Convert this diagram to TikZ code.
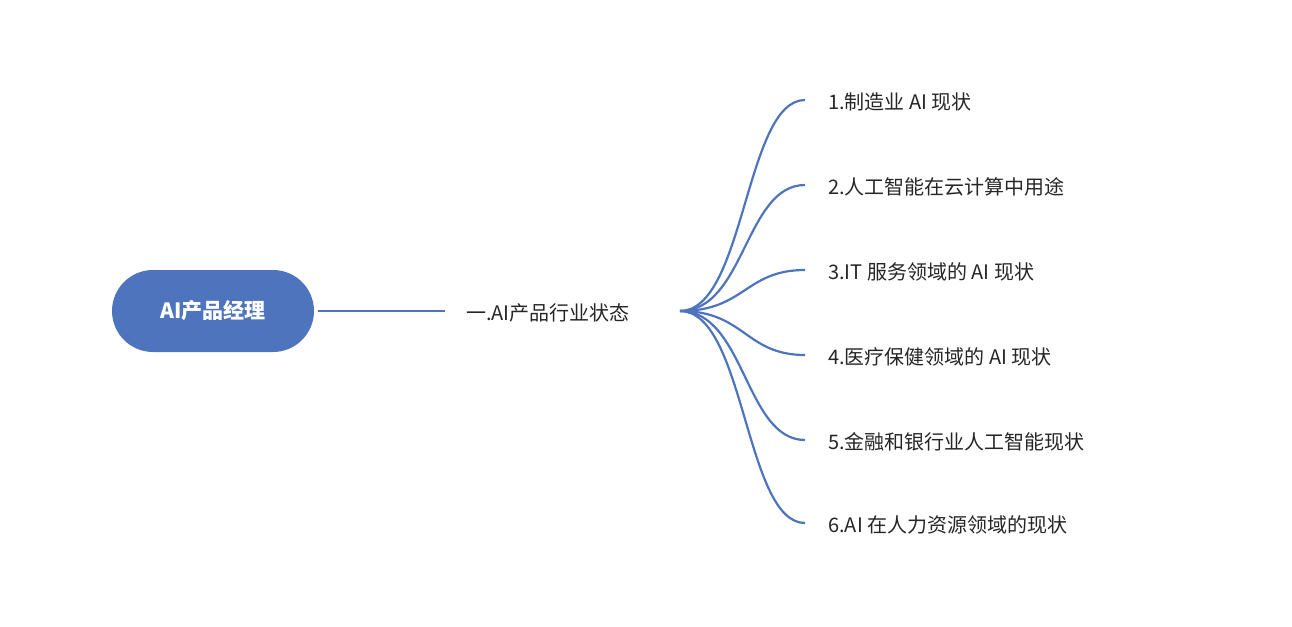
\documentclass[tikz,border=0pt]{standalone}
\usepackage{fontspec}
\setmainfont{Noto Sans CJK SC}
\definecolor{blu}{HTML}{4E74BE}
\definecolor{txt}{HTML}{262626}
\begin{document}
\begin{tikzpicture}[x=1pt,y=-1pt,
  leaf/.style={anchor=west,font=\fontsize{20}{24}\selectfont,text=txt,inner sep=0pt},
  link/.style={draw=blu,line width=2.2pt}]
\useasboundingbox (0,0) rectangle (1292,626);
\node[fill=blu,rounded corners=41pt,minimum width=202pt,minimum height=82pt,text=white,font=\fontsize{21}{24}\selectfont\bfseries] (root) at (213,311) {AI产品经理};
\node[leaf] (mid) at (466,313) {一.AI产品行业状态};
\coordinate (o) at (680,311);
\coordinate (s) at (445,311);
\draw[link] (root.east) ++(4,0) -- (s);
\foreach \i/\y/\t in {1/100/1.制造业 AI 现状,2/185/2.人工智能在云计算中用途,3/270/3.IT 服务领域的 AI 现状,4/355/4.医疗保健领域的 AI 现状,5/440/5.金融和银行业人工智能现状,6/523/6.AI 在人力资源领域的现状}{
  \coordinate (e\i) at (805,\y);
  \node[leaf] (l\i) at (828,\y+2) {\t};
  \draw[link] (o) .. controls (745,311) and (745,\y) .. (e\i);
}
\end{tikzpicture}
\end{document}
